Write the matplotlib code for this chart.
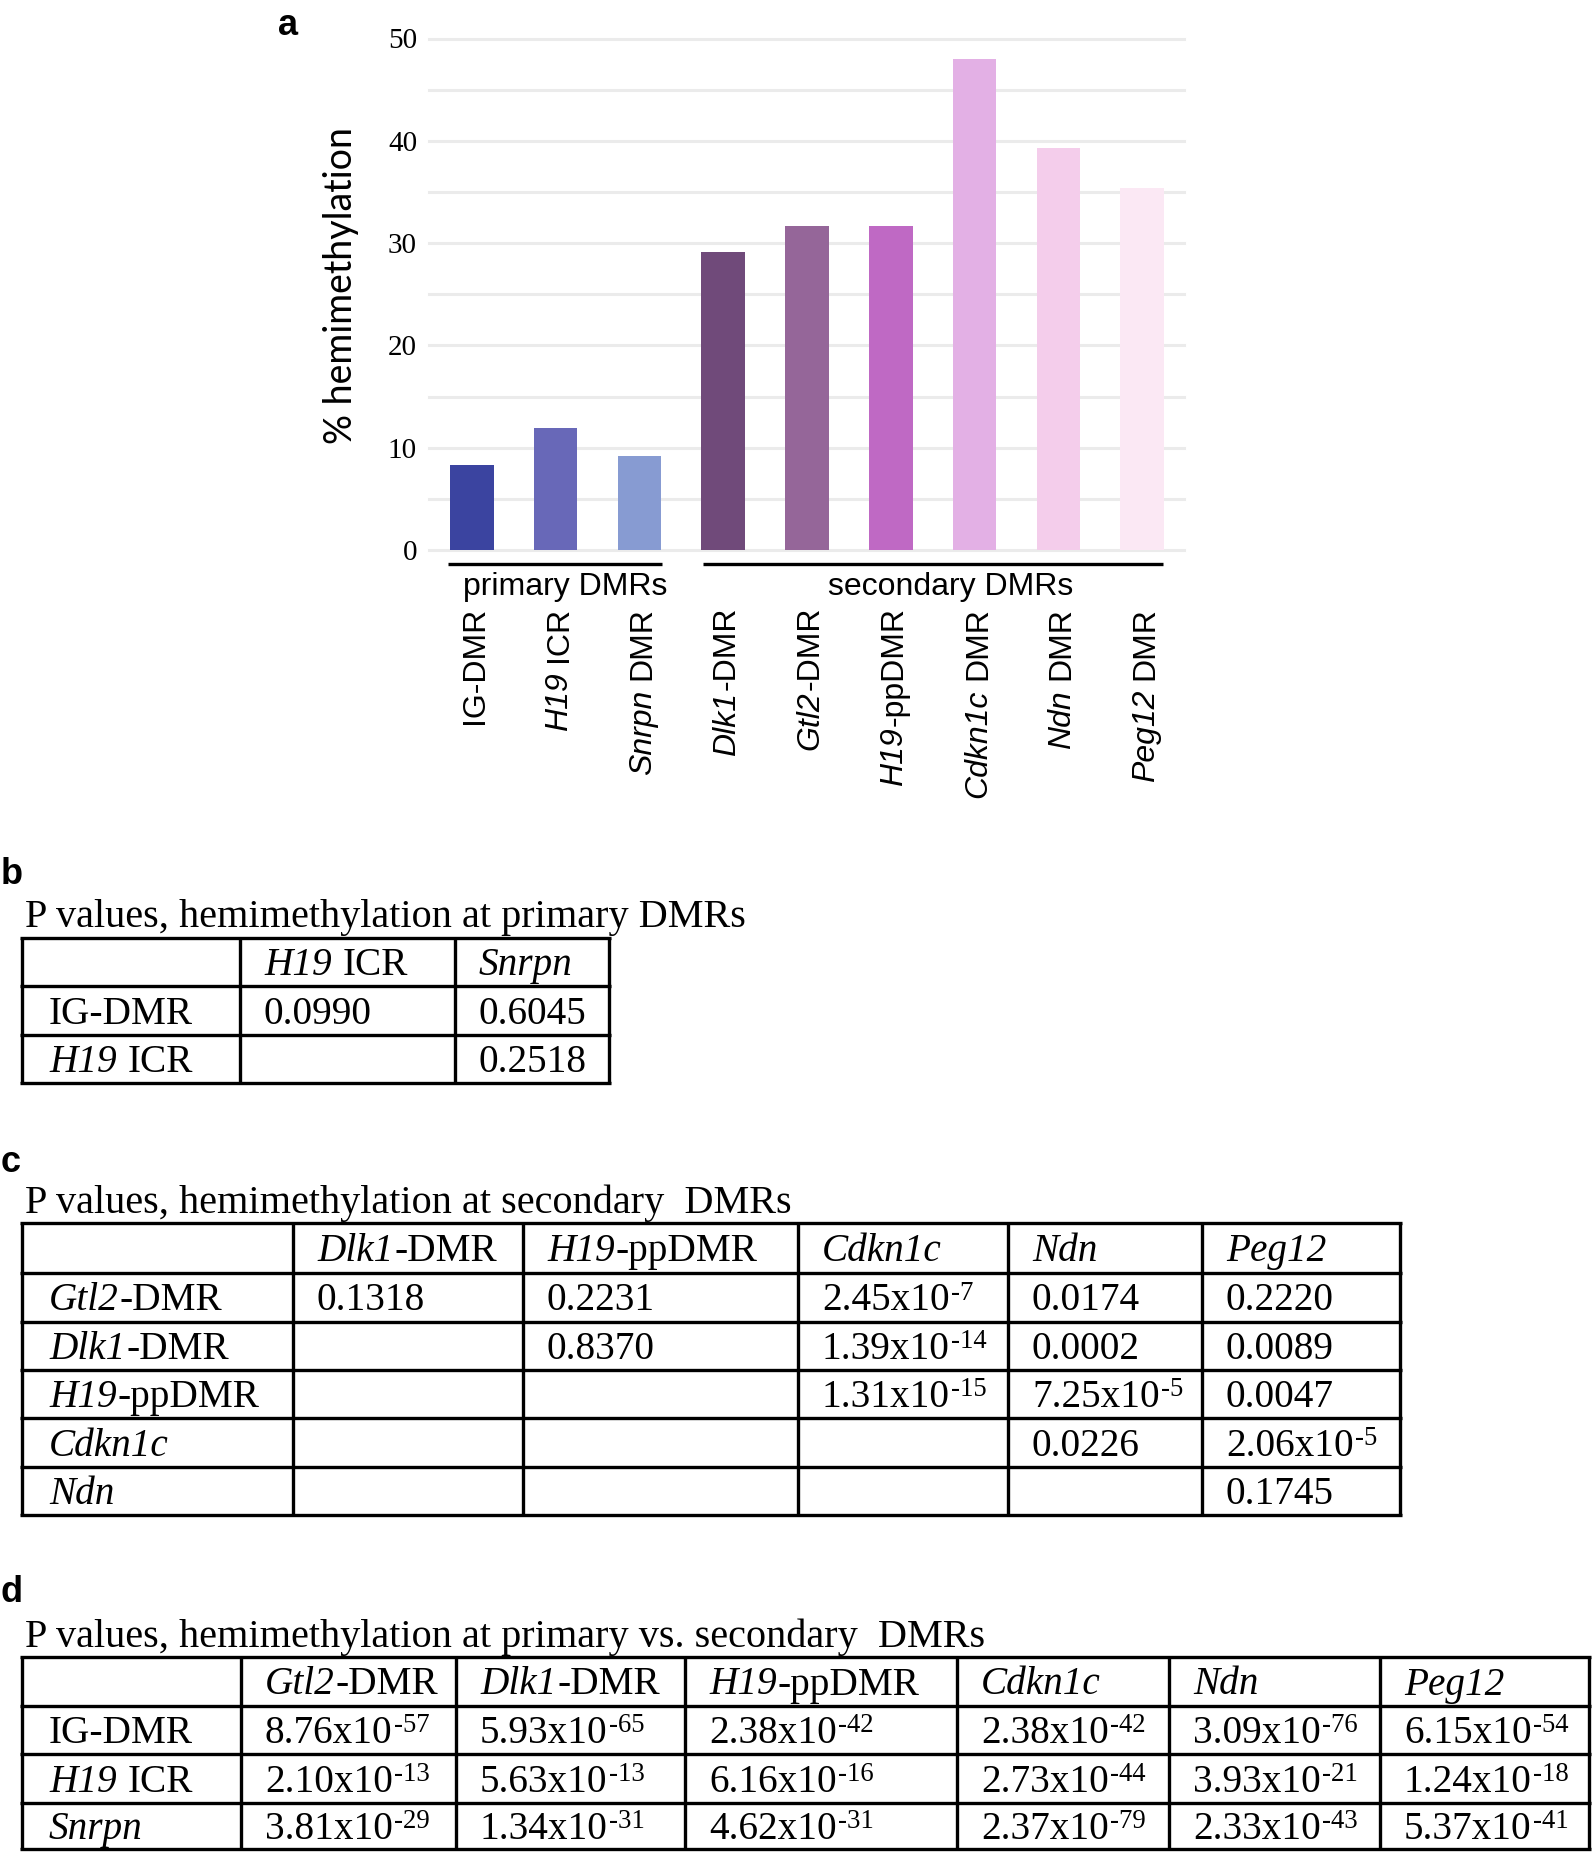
import matplotlib
matplotlib.use("Agg")
import matplotlib.pyplot as plt
from matplotlib import transforms

W, H = 1594, 1853
SERIF = "Liberation Serif"
SANS = "Liberation Sans"
plt.rcParams["font.family"] = SERIF

# ---- panel a: bar chart ----
bar_labels = ["IG-DMR", "*H19* ICR", "*Snrpn* DMR", "*Dlk1*-DMR", "*Gtl2*-DMR",
              "*H19*-ppDMR", "*Cdkn1c* DMR", "*Ndn* DMR", "*Peg12* DMR"]
hemi_pct = [8.3, 11.9, 9.2, 29.1, 31.7, 31.7, 48.0, 39.3, 35.4]
bar_colors = ["#3b44a0", "#6868b8", "#879bd2", "#704a7a", "#956699",
              "#bf69c4", "#e3b0e5", "#f4cdeb", "#fbe8f4"]
group_names = ["primary DMRs", "secondary DMRs"]
group_spans = [(-0.28, 2.27), (2.76, 8.25)]
group_text_x = [1.12, 5.71]

# ---- panel b ----
b_title = "P values, hemimethylation at primary DMRs"
b_cols = ["", "*H19* ICR", "*Snrpn*"]
b_rows = ["IG-DMR", "*H19* ICR"]
b_vals = [["0.0990", "0.6045"],
          ["", "0.2518"]]

# ---- panel c ----
c_title = "P values, hemimethylation at secondary  DMRs"
c_cols = ["", "*Dlk1*-DMR", "*H19*-ppDMR", "*Cdkn1c*", "*Ndn*", "*Peg12*"]
c_rows = ["*Gtl2*-DMR", "*Dlk1*-DMR", "*H19*-ppDMR", "*Cdkn1c*", "*Ndn*"]
c_vals = [["0.1318", "0.2231", "2.45x10^-7", "0.0174", "0.2220"],
          ["", "0.8370", "1.39x10^-14", "0.0002", "0.0089"],
          ["", "", "1.31x10^-15", "7.25x10^-5", "0.0047"],
          ["", "", "", "0.0226", "2.06x10^-5"],
          ["", "", "", "", "0.1745"]]

# ---- panel d ----
d_title = "P values, hemimethylation at primary vs. secondary  DMRs"
d_cols = ["", "*Gtl2*-DMR", "*Dlk1*-DMR", "*H19*-ppDMR", "*Cdkn1c*", "*Ndn*", "*Peg12*"]
d_rows = ["IG-DMR", "*H19* ICR", "*Snrpn*"]
d_vals = [["8.76x10^-57", "5.93x10^-65", "2.38x10^-42", "2.38x10^-42", "3.09x10^-76", "6.15x10^-54"],
          ["2.10x10^-13", "5.63x10^-13", "6.16x10^-16", "2.73x10^-44", "3.93x10^-21", "1.24x10^-18"],
          ["3.81x10^-29", "1.34x10^-31", "4.62x10^-31", "2.37x10^-79", "2.33x10^-43", "5.37x10^-41"]]

fig = plt.figure(figsize=(W / 100, H / 100), dpi=100)
ov = fig.add_axes([0, 0, 1, 1])
ov.set_xlim(0, W)
ov.set_ylim(H, 0)
ov.axis("off")
r = fig.canvas.get_renderer()


def parse(s):
    main, _, sup = s.partition("^")
    segs = [(t, i % 2 == 1, False) for i, t in enumerate(main.split("*")) if t]
    if sup:
        segs.append((sup, False, True))
    return segs


def em(size):
    return size * 100 / 72


def hrun(x, y, s, size, family=SERIF):
    for text, ital, sup in parse(s):
        if text.startswith(" "):
            x += 0.25 * em(size)
            text = text.lstrip()
        fs = size * 0.68 if sup else size
        yy = y - 0.27 * em(size) if sup else y
        t = ov.text(x, yy, text, fontsize=fs, family=family,
                    style="italic" if ital else "normal", ha="left", va="baseline")
        x = t.get_window_extent(r).x1 + 0.03 * em(size)


def vrun(x, ytop, s, size, family=SANS):
    y = ytop
    for text, ital, sup in reversed(parse(s)):
        lead = text.startswith(" ")
        t = ov.text(x, y, text.strip(), fontsize=size, family=family, rotation=90,
                    rotation_mode="anchor", style="italic" if ital else "normal",
                    ha="right", va="baseline")
        y = H - t.get_window_extent(r).y0 + 0.04 * em(size)
        if lead:
            y += 0.278 * em(size)


# bar chart
ax = fig.add_axes([429 / W, 1 - 550 / H, (1184 - 429) / W, (550 - 38.5) / H])
pos = list(range(len(hemi_pct)))
ax.bar(pos, hemi_pct, width=0.52, color=bar_colors, zorder=2)
ax.set_xlim(-0.51, 8.5)
ax.set_ylim(0, 50)
ax.set_yticks(range(0, 51, 5))
ax.set_yticklabels([str(v) if v % 10 == 0 else "" for v in range(0, 51, 5)])
ax.tick_params(axis="y", length=0, pad=8.6, labelsize=21)
ax.set_xticks([])
ax.yaxis.grid(True, color="#ebebeb", lw=2.2)
for gl in ax.get_ygridlines():
    gl.set_clip_on(False)
ax.set_axisbelow(True)
for sp in ax.spines.values():
    sp.set_visible(False)
ax.patch.set_alpha(0)

ov.text(341, 285, "% hemimethylation", rotation=90, ha="center", va="center",
        family="Lato", fontsize=27)

blend = transforms.blended_transform_factory(ax.transData, ov.transData)
for (x0, x1), name, tx in zip(group_spans, group_names, group_text_x):
    ov.plot([x0, x1], [564, 564], color="black", lw=2.4, transform=blend,
            solid_capstyle="butt")
    ov.text(tx, 595, name, transform=blend, ha="center", va="baseline",
            family=SANS, fontsize=23)

for i, lab in enumerate(bar_labels):
    xc = ax.transData.transform((i, 0))[0]
    vrun(xc + 0.36 * em(23), 607, lab, 23)

# panel letters
for letter, (lx, ly) in zip("abcd", [(288, 35), (1, 884), (1, 1172), (1, 1602)]):
    ov.text(lx, ly, letter, ha="center" if letter == "a" else "left", va="baseline",
            family=SANS, weight="bold", fontsize=26)

# tables
tables = [
    (b_title, b_cols, b_rows, b_vals, 927, [22, 240, 455, 609], [938, 986, 1035, 1083]),
    (c_title, c_cols, c_rows, c_vals, 1213, [22, 293, 523, 798, 1008, 1202, 1400],
     [1223, 1273, 1322, 1370, 1418, 1467, 1515]),
    (d_title, d_cols, d_rows, d_vals, 1647, [22, 241, 456, 685, 957, 1169, 1380, 1589],
     [1657, 1706, 1754, 1803, 1849]),
]
LW = 2.4
for title, cols, rows, vals, tb, xs, ys in tables:
    hrun(25, tb, title, 29)
    for yy in ys:
        ov.plot([xs[0] - 1.6, xs[-1] + 1.6], [yy, yy], color="black", lw=LW,
                solid_capstyle="butt")
    for xx in xs:
        ov.plot([xx, xx], [ys[0], ys[-1]], color="black", lw=LW, solid_capstyle="butt")
    grid = [cols] + [[rn] + rv for rn, rv in zip(rows, vals)]
    for ri, row in enumerate(grid):
        base = (ys[ri] + ys[ri + 1]) / 2 + 13
        for ci, cell in enumerate(row):
            if cell:
                hrun(xs[ci] + (27 if ci == 0 else 24), base, cell, 28.3)

fig.savefig("out.png", dpi=100)
